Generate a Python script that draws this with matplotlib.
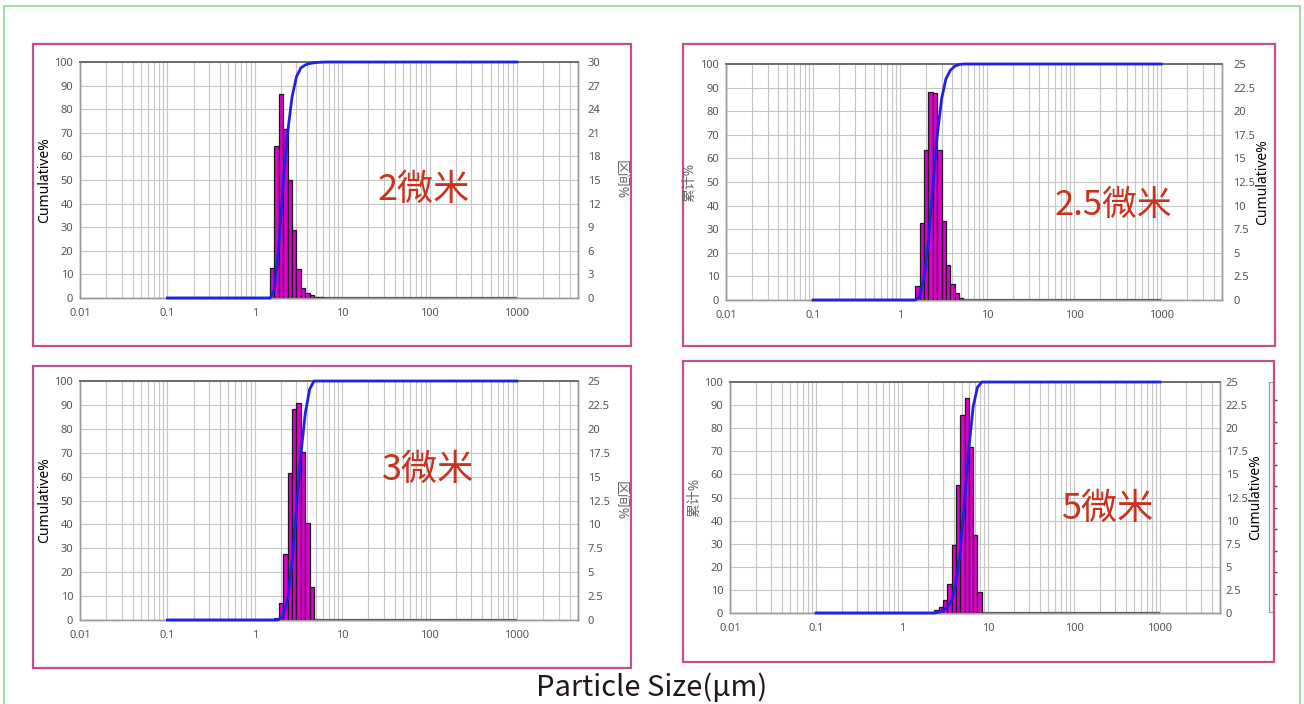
import matplotlib.pyplot as plt
import numpy as np
from matplotlib.patches import Rectangle
from matplotlib.ticker import FixedLocator, LogLocator, NullFormatter

# size classes (um), bar lower/upper edges
edges_um = [1.50, 1.68, 1.89, 2.12, 2.38, 2.67, 3.00, 3.36, 3.78,
            4.24, 4.76, 5.34, 6.00, 6.73, 7.55, 8.48]

# differential % per size class, starting at the given lower edge
p1_start = 1.50
p1_diff = [3.8, 19.3, 25.9, 21.5, 15.0, 8.6, 3.7, 1.3, 0.6, 0.33, 0.18, 0.09, 0.06]
p2_start = 1.50
p2_diff = [1.45, 8.2, 15.9, 22.0, 21.9, 15.9, 8.4, 3.7, 1.7, 0.75, 0.22]
p3_start = 1.68
p3_diff = [0.18, 1.8, 6.9, 15.4, 22.05, 22.7, 17.6, 10.15, 3.5]
p4_start = 2.38
p4_diff = [0.33, 0.63, 1.38, 3.1, 7.4, 13.9, 21.4, 23.3, 17.95, 8.45, 2.3]

names = ["2微米", "2.5微米", "3微米", "5微米"]
right_max = [30, 25, 25, 25]
right_step = [3, 2.5, 2.5, 2.5]
left_labels = ["Cumulative%", "累计%", "Cumulative%", "累计%"]
right_labels = ["区间%", "Cumulative%", "区间%", "Cumulative%"]

x_ticks = [0.01, 0.1, 1, 10, 100, 1000]
x_ticklabels = ["0.01", "0.1", "1", "10", "100", "1000"]
cum_ticks = list(range(0, 101, 10))

plt.rcParams['font.family'] = ['Noto Sans', 'Noto Sans CJK SC', 'DejaVu Sans']

W, H = 1304, 704
fig = plt.figure(figsize=(W / 100, H / 100), dpi=100)


def fx(x):
    return x / W


def fy(y):
    return 1 - y / H


def box(x0, y0, x1, y1, color, lw):
    fig.patches.append(Rectangle((fx(x0), fy(y1)), fx(x1 - x0), (y1 - y0) / H,
                                 transform=fig.transFigure, fill=False,
                                 edgecolor=color, linewidth=lw, zorder=0))


# outer frame and panel frames
box(4, 6, 1300, 720, '#8fd5a0', 1.2)
frames = [(33, 44, 631, 346), (683, 44, 1275, 346),
          (33, 366, 631, 668), (683, 361, 1274, 662)]
for f in frames:
    box(*f, '#c2508e', 1.6)

# axes rectangles in pixels: left, top, right, bottom
axes_px = [(80, 62, 578, 298), (726, 64, 1222, 300),
           (80, 381, 578, 620), (730, 382, 1220, 613)]
starts = [p1_start, p2_start, p3_start, p4_start]
diffs = [p1_diff, p2_diff, p3_diff, p4_diff]
name_pos = [(424, 190), (1113, 205), (428, 470), (1107, 509)]
name_size = [26, 25, 26, 26]
left_lab_x = [45, 690, 45, 695]
right_lab_x = [620, 1263, 620, 1256]
right_pad = [7, 8, 7, 4]

for i in range(4):
    l, t, r, b = axes_px[i]
    ax2 = fig.add_axes([fx(l), fy(b), fx(r - l), (b - t) / H])
    ax = ax2.twinx()
    # cumulative axis sits on the left and on top
    ax.yaxis.tick_left()
    ax2.yaxis.tick_right()
    ax.set_zorder(ax2.get_zorder() + 1)
    ax.patch.set_visible(False)

    ax2.set_xscale('log')
    ax2.set_xlim(0.01, 5000)
    ax2.set_ylim(0, right_max[i])
    ax.set_ylim(0, 100)

    ax2.xaxis.set_major_locator(FixedLocator(x_ticks))
    ax2.set_xticklabels(x_ticklabels)
    ax2.xaxis.set_minor_locator(LogLocator(base=10, subs=range(2, 10), numticks=20))
    ax2.xaxis.set_minor_formatter(NullFormatter())
    rt = np.arange(0, right_max[i] + 0.01, right_step[i])
    ax2.set_yticks(rt)
    ax2.set_yticklabels(['{:g}'.format(v) for v in rt])
    ax.set_yticks(cum_ticks)

    ax2.grid(True, which='both', axis='x', color='#c6c6c6', lw=0.8)
    ax2.grid(True, which='major', axis='y', color='#c6c6c6', lw=0.8)
    ax2.set_axisbelow(True)

    for a in (ax, ax2):
        a.tick_params(which='both', length=0, labelsize=8, labelcolor='#555555')
        for s in a.spines.values():
            s.set_color('#9a9a9a')
            s.set_linewidth(1.0)
        a.spines['top'].set_color('#6e6e6e')
        a.spines['top'].set_linewidth(1.3)
    ax2.tick_params(axis='x', pad=7)
    ax2.tick_params(axis='y', pad=right_pad[i])
    ax.tick_params(axis='y', pad=5)

    # histogram bars
    k = edges_um.index(starts[i])
    vals = diffs[i]
    lo = edges_um[k:k + len(vals)]
    hi = edges_um[k + 1:k + 1 + len(vals)]
    widths = [h - q for q, h in zip(lo, hi)]
    ax2.hlines(0, 0.1, 1000, color='#444444', lw=1.6, clip_on=False, zorder=2)
    ax2.bar(lo, vals, width=widths, align='edge', color='#dc00cc',
            edgecolor='#1a1a1a', linewidth=0.9, zorder=3)

    # cumulative curve
    cum = np.cumsum(vals) / np.sum(vals) * 100
    cx = [0.1, lo[0]] + list(hi) + [1000]
    cy = [0, 0] + list(cum) + [100]
    ax.plot(cx, cy, color='#1f22e6', lw=2.0, clip_on=False, zorder=4)

    # panel texts
    nx, ny = name_pos[i]
    fig.text(fx(nx), fy(ny), names[i], color='#c8321e', fontsize=name_size[i],
             family=['Noto Sans CJK SC'], ha='center', va='center')
    ly = fy((t + b) / 2)
    lcol = 'black' if left_labels[i].startswith('C') else '#666666'
    rcol = 'black' if right_labels[i].startswith('C') else '#666666'
    fig.text(fx(left_lab_x[i]), ly, left_labels[i], rotation=90, color=lcol,
             fontsize=10, ha='center', va='center')
    fig.text(fx(right_lab_x[i]), ly, right_labels[i],
             rotation=270 if not right_labels[i].startswith('C') else 90,
             color=rcol, fontsize=10, ha='center', va='center')

# cropped scale strip at the right edge of the last panel
ax_s = fig.add_axes([fx(1269), fy(612), fx(4), (612 - 382) / H])
ax_s.set_xticks([])
ax_s.yaxis.tick_right()
ax_s.set_ylim(0, 1)
ax_s.set_yticks(np.linspace(0.08, 0.92, 10))
ax_s.set_yticklabels([])
ax_s.tick_params(axis='y', length=3, color='#444444', width=1)
ax_s.set_facecolor('#f4f4f4')
for s in ax_s.spines.values():
    s.set_color('#999999')
    s.set_linewidth(0.8)

fig.text(0.5, fy(688), "Particle Size(μm)", ha='center', va='center',
         fontsize=21, color='#231815', family=['Noto Sans CJK SC', 'DejaVu Sans'])

fig.savefig('out.png', dpi=100, facecolor='white')
